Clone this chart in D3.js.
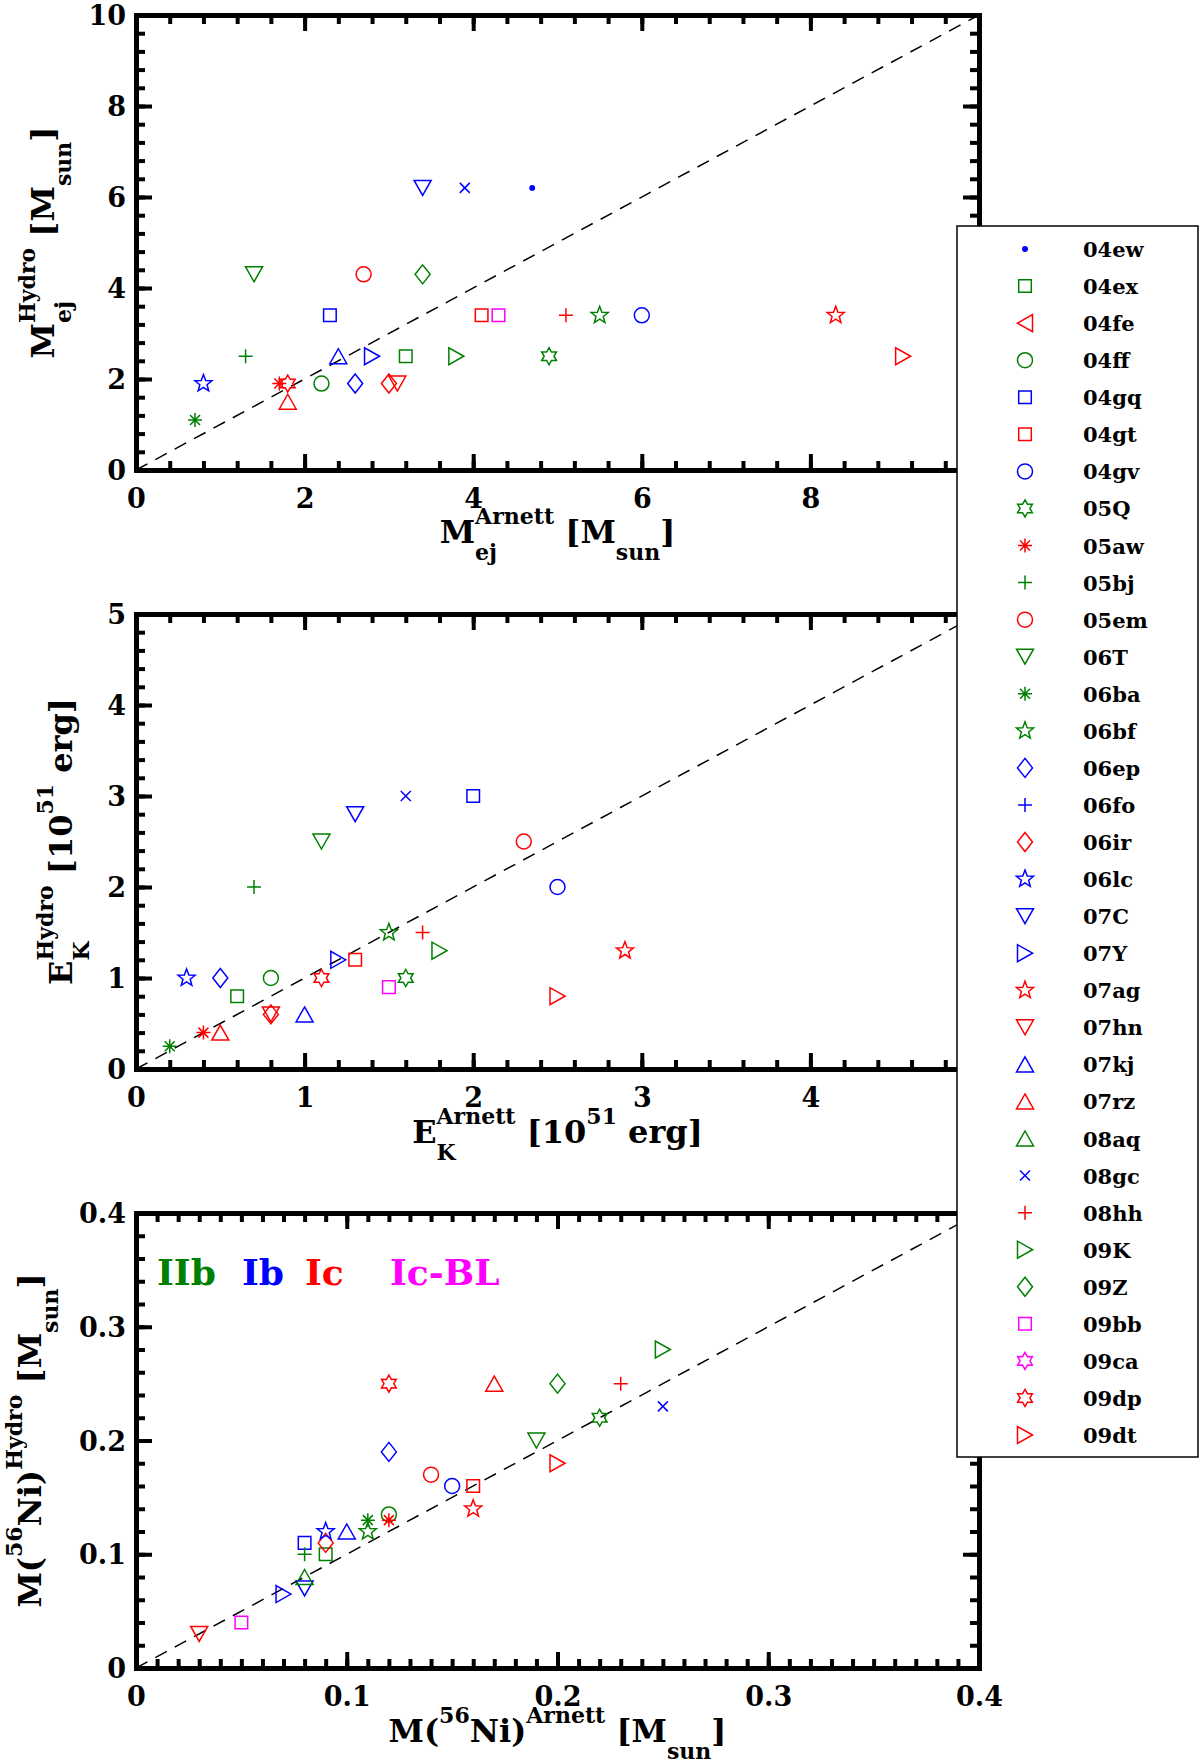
<!DOCTYPE html>
<html>
<head>
<meta charset="utf-8">
<script src="https://cdn.jsdelivr.net/npm/d3@7"></script>
<style>
  body { margin: 0; background: #fff; }
  text { font-family: "DejaVu Serif", "Liberation Serif", serif; font-weight: bold; }
</style>
</head>
<body>
<div id="chart"></div>
<script>
// supernova names, class and plot symbol (legend order)
var snNames = ['04ew','04ex','04fe','04ff','04gq','04gt','04gv','05Q','05aw','05bj','05em','06T','06ba','06bf','06ep','06fo','06ir','06lc','07C','07Y','07ag','07hn','07kj','07rz','08aq','08gc','08hh','09K','09Z','09bb','09ca','09dp','09dt'];
var snType = ['Ib','IIb','Ic','IIb','Ib','Ic','Ib','IIb','Ic','IIb','Ic','IIb','IIb','IIb','Ib','Ib','Ic','Ib','Ib','Ib','Ic','Ic','Ib','Ic','IIb','Ib','Ic','IIb','IIb','Ic-BL','Ic-BL','Ic','Ic'];
var snSymbol = ['dot','square','triL','circle','square','square','circle','hex','asterisk','plus','circle','triD','asterisk','star5','diamond','plus','diamond','star5','triD','triR','star5','triD','triU','triU','triU','x','plus','triR','diamond','square','hex','hex','triR'];

// ejecta mass [Msun]
var mejArnett = [4.7,3.2,null,2.2,2.3,4.1,6.0,4.9,1.7,1.3,2.7,1.4,0.7,5.5,2.6,null,3.0,0.8,3.4,2.8,8.3,3.1,2.4,1.8,null,3.9,5.1,3.8,3.4,4.3,null,1.8,9.1];
var mejHydro  = [6.2,2.5,null,1.9,3.4,3.4,3.4,2.5,1.9,2.5,4.3,4.3,1.1,3.4,1.9,null,1.9,1.9,6.2,2.5,3.4,1.9,2.5,1.5,null,6.2,3.4,2.5,4.3,3.4,null,1.9,2.5];
// kinetic energy [1e51 erg]
var ekArnett = [null,0.6,null,0.8,2.0,1.3,2.5,1.6,0.4,0.7,2.3,1.1,0.2,1.5,0.5,null,0.8,0.3,1.3,1.2,2.9,0.8,1.0,0.5,null,1.6,1.7,1.8,null,1.5,null,1.1,2.5];
var ekHydro  = [null,0.8,null,1.0,3.0,1.2,2.0,1.0,0.4,2.0,2.5,2.5,0.25,1.5,1.0,null,0.6,1.0,2.8,1.2,1.3,0.6,0.6,0.4,null,3.0,1.5,1.3,null,0.9,null,1.0,0.8];
// nickel mass [Msun]
var niArnett = [null,0.09,null,0.12,0.08,0.16,0.15,0.22,0.12,0.08,0.14,0.19,0.11,0.11,0.12,null,0.09,0.09,0.08,0.07,0.16,0.03,0.10,0.17,0.08,0.25,0.23,0.25,0.20,0.05,null,0.12,0.20];
var niHydro  = [null,0.10,null,0.135,0.11,0.16,0.16,0.22,0.13,0.10,0.17,0.20,0.13,0.12,0.19,null,0.11,0.12,0.07,0.065,0.14,0.03,0.12,0.25,0.08,0.23,0.25,0.28,0.25,0.04,null,0.25,0.18];

var typeNames = ['IIb','Ib','Ic','Ic-BL'];
var typeColor = {'IIb':'rgb(0,128,0)','Ib':'rgb(0,0,255)','Ic':'rgb(255,0,0)','Ic-BL':'rgb(255,0,255)'};

var svg = d3.select("#chart").append("svg")
  .attr("width", 1200).attr("height", 1762)
  .style("background", "#fff");

function polyStar(n, ro, ri, rot) {
  var p = [];
  for (var i = 0; i < 2 * n; i++) {
    var r = i % 2 ? ri : ro, a = rot + i * Math.PI / n;
    p.push((r * Math.sin(a)).toFixed(2) + ',' + (-r * Math.cos(a)).toFixed(2));
  }
  return 'M' + p.join('L') + 'Z';
}
var symbolPaths = {
  dot: 'M-2.2,0a2.2,2.2 0 1,0 4.4,0a2.2,2.2 0 1,0 -4.4,0Z',
  square: 'M-6.3,-6.3h12.6v12.6h-12.6Z',
  circle: 'M-7.5,0a7.5,7.5 0 1,0 15,0a7.5,7.5 0 1,0 -15,0Z',
  triU: 'M0,-7.5L8.5,7.5L-8.5,7.5Z',
  triD: 'M0,7.5L8.5,-7.5L-8.5,-7.5Z',
  triL: 'M-7.5,0L7.5,-8.5L7.5,8.5Z',
  triR: 'M7.5,0L-7.5,-8.5L-7.5,8.5Z',
  diamond: 'M0,-9.5L7.5,0L0,9.5L-7.5,0Z',
  plus: 'M-7,0H7M0,-7V7',
  x: 'M-5,-5L5,5M-5,5L5,-5',
  asterisk: 'M-7,0H7M0,-7V7M-5,-5L5,5M-5,5L5,-5',
  star5: polyStar(5, 9, 3.8, 0),
  hex: polyStar(6, 8.5, 4.9, 0)
};

function drawMarker(g, i, x, y) {
  var col = typeColor[snType[i]];
  var sym = snSymbol[i];
  g.append('path')
    .attr('d', symbolPaths[sym])
    .attr('transform', 'translate(' + x + ',' + y + ')')
    .attr('fill', sym === 'dot' ? col : 'none')
    .attr('stroke', col)
    .attr('stroke-width', 1.5);
}

// text with sub/superscripts: parts = [text, level, stacked]
function richText(g, parts, big, small) {
  var x = 0, stackEnd = null, els = [];
  parts.forEach(function(p) {
    var lvl = p[1];
    var t = g.append('text')
      .attr('x', x)
      .attr('y', lvl === 1 ? -19 : lvl === -1 ? 17 : 0)
      .style('font-size', (lvl === 0 ? big : small) + 'px')
      .style('white-space', 'pre')
      .text(p[0]);
    els.push(t);
    var w = t.node().getComputedTextLength();
    if (p[2]) { stackEnd = x + w; }
    else {
      var end = x + w;
      if (stackEnd !== null) { end = Math.max(end, stackEnd); stackEnd = null; }
      x = end;
    }
  });
  els.forEach(function(t) { t.attr('x', +t.attr('x') - x / 2); });
}

var L = 136, R = 979;

function panel(opt) {
  var top = opt.top, bot = opt.top + 455;
  var x = d3.scaleLinear().domain([0, opt.max]).range([L, R]);
  var y = d3.scaleLinear().domain([0, opt.max]).range([bot, top]);
  var g = svg.append('g');
  var fmt = opt.fmt;
  var majors = d3.range(0, opt.max + opt.major / 2, opt.major);
  var minors = d3.range(0, opt.max + opt.minor / 2, opt.minor);

  // y = x reference line
  g.append('path')
    .attr('d', d3.line().x(function(d){ return x(d); }).y(function(d){ return y(d); })([0, opt.max]))
    .attr('stroke', '#000').attr('stroke-width', 1.5).attr('stroke-dasharray', '13,9').attr('fill', 'none');

  // points
  var mg = g.append('g');
  opt.xs.forEach(function(v, i) {
    if (v === null || opt.ys[i] === null) return;
    drawMarker(mg, i, x(v), y(opt.ys[i]));
  });

  // axes: minor then major, all ticks inward
  function ax(gen, scale, pos, vals, size, labels) {
    var a = gen(scale).tickValues(vals).tickSize(-size).tickSizeOuter(0)
      .tickFormat(labels ? fmt : '');
    var ag = g.append('g').attr('transform', pos).call(a);
    ag.select('.domain').attr('stroke-width', 5).attr('stroke-linecap', 'square');
    ag.selectAll('.tick line').attr('stroke-width', 4);
    ag.selectAll('text').attr('fill', '#000').style('font-size', '27px').style('font-family', null);
    return ag;
  }
  [[minors, 9, false], [majors, 16, true]].forEach(function(s) {
    var b = ax(d3.axisBottom, x, 'translate(0,' + bot + ')', s[0], s[1], s[2]);
    b.selectAll('text').attr('y', 38).attr('dy', 0);
    ax(d3.axisTop, x, 'translate(0,' + top + ')', s[0], s[1], false);
    var l = ax(d3.axisLeft, y, 'translate(' + L + ',0)', s[0], s[1], s[2]);
    l.selectAll('text').attr('x', -10).attr('dy', '0.36em');
    ax(d3.axisRight, y, 'translate(' + R + ',0)', s[0], s[1], false);
  });

  var xt = g.append('g').attr('transform', 'translate(' + ((L + R) / 2) + ',' + (bot + opt.xtOff) + ')');
  richText(xt, opt.xTitle, 32, 22);
  var yt = g.append('g').attr('transform', 'translate(' + opt.ytX + ',' + ((top + bot) / 2) + ') rotate(-90)');
  richText(yt, opt.yTitle, 32, 22);
  return g;
}

panel({
  top: 15, max: 10, major: 2, minor: 0.4, fmt: d3.format('d'),
  xs: mejArnett, ys: mejHydro, xtOff: 73, ytX: 54,
  xTitle: [['M',0],['ej',-1,true],['Arnett',1],[' [M',0],['sun',-1],[']',0]],
  yTitle: [['M',0],['ej',-1,true],['Hydro',1],[' [M',0],['sun',-1],[']',0]]
});
panel({
  top: 614, max: 5, major: 1, minor: 0.2, fmt: d3.format('d'),
  xs: ekArnett, ys: ekHydro, xtOff: 74, ytX: 72,
  xTitle: [['E',0],['K',-1,true],['Arnett',1],[' [10',0],['51',1],[' erg]',0]],
  yTitle: [['E',0],['K',-1,true],['Hydro',1],[' [10',0],['51',1],[' erg]',0]]
});
var p3 = panel({
  top: 1213, max: 0.4, major: 0.1, minor: 0.01, fmt: function(d){ return d === 0 ? '0' : d3.format('.1f')(d); },
  xs: niArnett, ys: niHydro, xtOff: 74, ytX: 41,
  xTitle: [['M(',0],['56',1],['Ni)',0],['Arnett',1],[' [M',0],['sun',-1],[']',0]],
  yTitle: [['M(',0],['56',1],['Ni)',0],['Hydro',1],[' [M',0],['sun',-1],[']',0]]
});
// panel 3 y minor ticks are every 0.02, not 0.01: drop the odd ones on left/right
p3.selectAll('g').filter(function() {
  var t = d3.select(this).attr('transform') || '';
  return t.indexOf('translate(' + L + ',0)') === 0 || t.indexOf('translate(' + R + ',0)') === 0;
}).each(function() {
  d3.select(this).selectAll('.tick').filter(function(d) {
    var k = Math.round(d * 100);
    return k % 2 === 1;
  }).remove();
});

// type labels in panel 3
var typeX = [157, 242, 305, 390];
typeNames.forEach(function(t, i) {
  svg.append('text').attr('x', typeX[i]).attr('y', 1285)
    .style('font-size', '36px').attr('fill', typeColor[t]).text(t);
});

// legend box
var lg = svg.append('g');
lg.append('rect').attr('x', 957).attr('y', 226).attr('width', 241).attr('height', 1231)
  .attr('fill', '#fff').attr('stroke', '#000').attr('stroke-width', 1.5);
var ly = d3.scaleLinear().domain([0, 32]).range([249, 1435]);
snNames.forEach(function(n, i) {
  drawMarker(lg, i, 1025, ly(i));
  lg.append('text').attr('x', 1083).attr('y', ly(i) + 8).style('font-size', '21px').text(n);
});
</script>
</body>
</html>
